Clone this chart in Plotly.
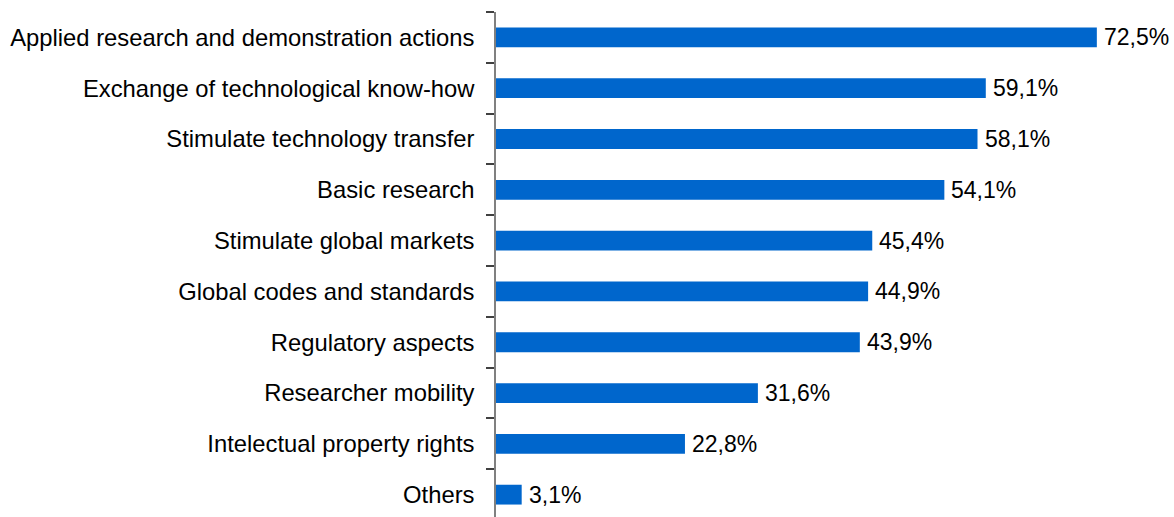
import plotly.graph_objects as go

# Survey topics (top to bottom) and share of responses, in percent
categories = [
    "Applied research and demonstration actions",
    "Exchange of technological know-how",
    "Stimulate technology transfer",
    "Basic research",
    "Stimulate global markets",
    "Global codes and standards",
    "Regulatory aspects",
    "Researcher mobility",
    "Intelectual property rights",
    "Others",
]
values = [72.5, 59.1, 58.1, 54.1, 45.4, 44.9, 43.9, 31.6, 22.8, 3.1]

# Value labels use a decimal comma
labels = [f"{v:.1f}".replace(".", ",") + "%" for v in values]

FONT = "Liberation Sans, Arial, sans-serif"

fig = go.Figure(
    go.Bar(
        x=values,
        y=categories,
        orientation="h",
        width=0.39,
        marker=dict(color="#0066CC", line=dict(width=0)),
        hoverinfo="skip",
    )
)

# Value labels just past the end of each bar
for v, c, t in zip(values, categories, labels):
    fig.add_annotation(
        x=v,
        y=c,
        text=t,
        xanchor="left",
        yanchor="middle",
        xshift=5,
        showarrow=False,
        font=dict(family=FONT, size=23, color="#000000"),
    )

fig.update_layout(
    width=1174,
    height=517,
    margin=dict(l=496, r=15, t=12, b=0),
    paper_bgcolor="white",
    plot_bgcolor="white",
    showlegend=False,
    font=dict(family=FONT, size=23.8, color="#000000"),
    xaxis=dict(
        range=[0, 80],
        visible=False,
        showgrid=False,
        zeroline=False,
    ),
    yaxis=dict(
        type="category",
        categoryorder="array",
        categoryarray=categories,
        range=[9.44, -0.5],
        showline=True,
        linecolor="#808080",
        linewidth=1.5,
        ticks="outside",
        tickson="boundaries",
        ticklen=8,
        tickwidth=1.5,
        tickcolor="#404040",
        ticklabelstandoff=15,
        tickfont=dict(family=FONT, size=23.8, color="#000000"),
        showgrid=False,
        zeroline=False,
    ),
)

fig.write_html("out.html")
